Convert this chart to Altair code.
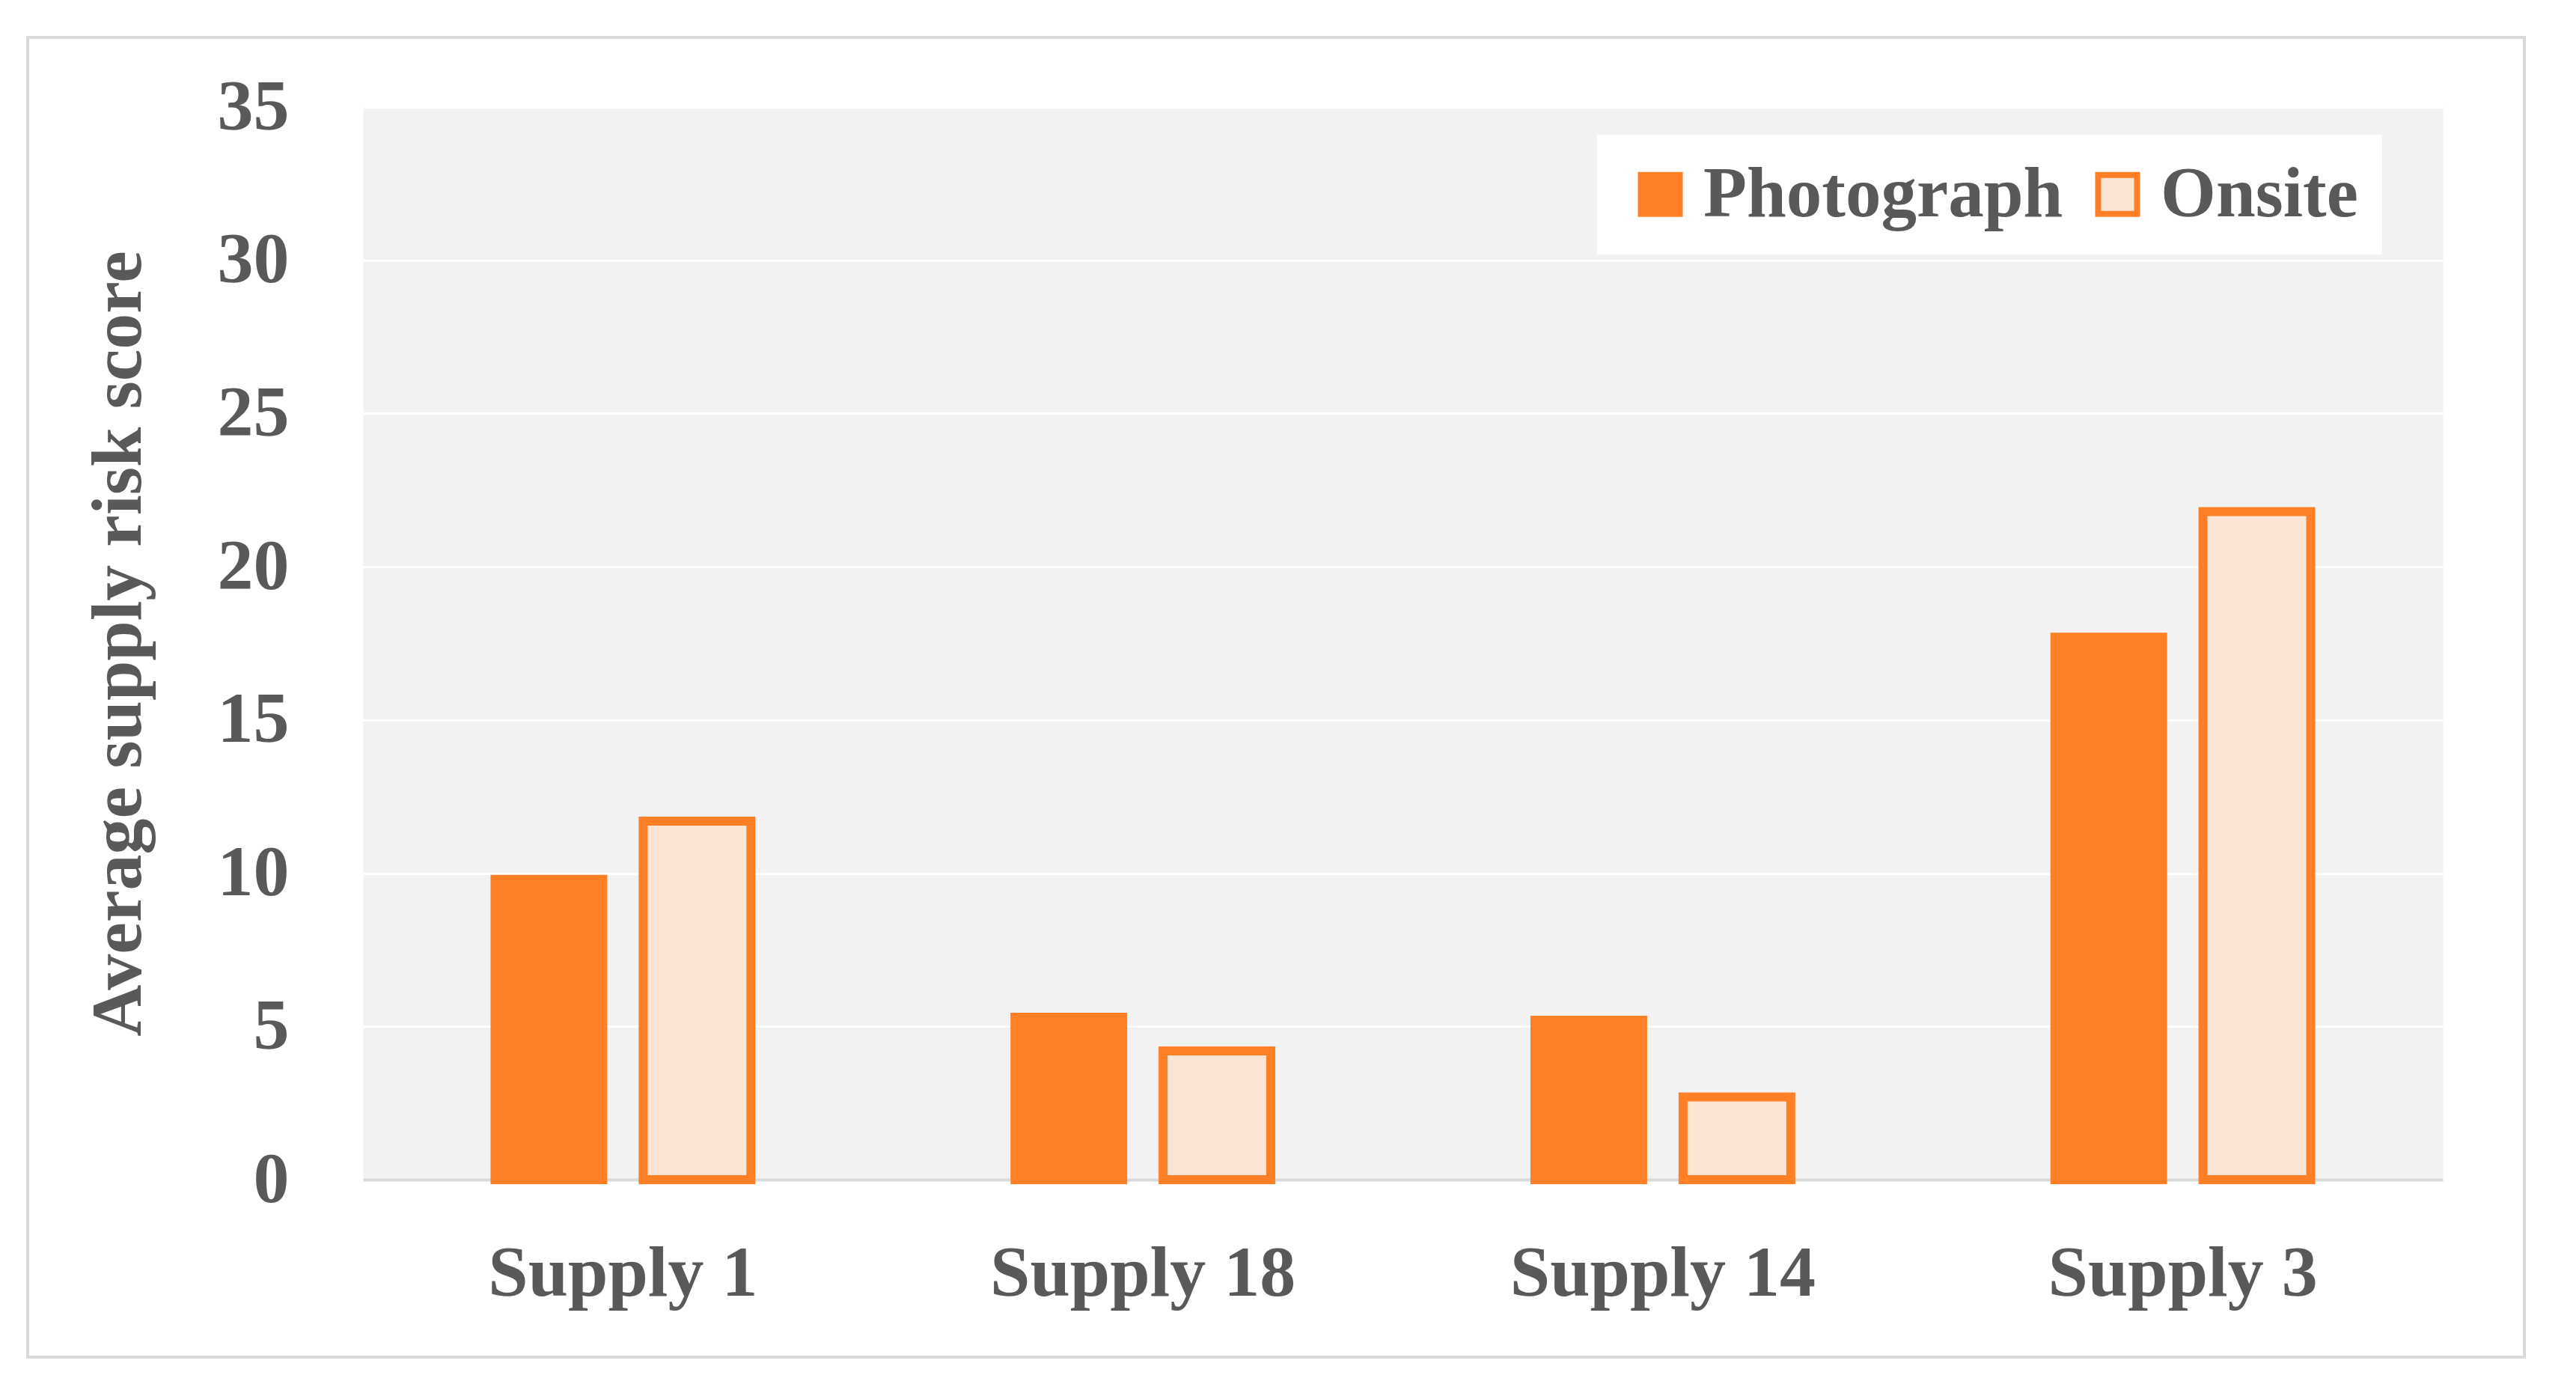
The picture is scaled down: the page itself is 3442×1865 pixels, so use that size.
import altair as alt
import pandas as pd

supplies = ["Supply 1", "Supply 18", "Supply 14", "Supply 3"]
series = ["Photograph", "Onsite"]
photograph = [9.8, 5.3, 5.2, 17.7]
onsite = [11.7, 4.2, 2.7, 21.8]
y_ticks = [0, 5, 10, 15, 20, 25, 30, 35]

rows = []
for s, p, o in zip(supplies, photograph, onsite):
    rows.append({"supply": s, "series": "Photograph", "score": p})
    rows.append({"supply": s, "series": "Onsite", "score": o})
df = pd.DataFrame(rows)

ORANGE = "#FF7F27"
PEACH = "#FDE5D6"
TEXT = "#595959"
FONT = "Liberation Serif"
W, H = 2779, 1433

bars = alt.Chart(df).mark_bar(stroke=ORANGE, strokeWidth=12).encode(
    x=alt.X(
        "supply:N",
        sort=supplies,
        scale=alt.Scale(paddingInner=0.508, paddingOuter=0.254),
        axis=alt.Axis(
            title=None, labelAngle=0, labelFont=FONT, labelFontSize=96,
            labelFontWeight="bold", labelColor=TEXT, labelPadding=78,
            labelLimit=2000,
            ticks=False, domainColor="#D9D9D9", domainWidth=4, grid=False,
        ),
    ),
    xOffset=alt.XOffset("series:N", sort=series,
                        scale=alt.Scale(paddingInner=0.2727, paddingOuter=0)),
    y=alt.Y(
        "score:Q",
        scale=alt.Scale(domain=[0, 35], nice=False),
        axis=alt.Axis(
            values=y_ticks, title="Average supply risk score",
            titleFont=FONT, titleFontSize=96, titleFontWeight="bold", titleColor=TEXT,
            titlePadding=83,
            labelFont=FONT, labelFontSize=96, labelFontWeight="bold", labelColor=TEXT,
            labelPadding=99, ticks=False, domain=False,
            gridColor="white", gridWidth=3,
        ),
    ),
    fill=alt.Fill(
        "series:N",
        sort=series,
        scale=alt.Scale(domain=series, range=[ORANGE, PEACH]),
        legend=alt.Legend(
            title=None, orient="none", legendX=1649, legendY=37,
            direction="horizontal", fillColor="white", padding=32,
            symbolType="square", symbolSize=2700, symbolStrokeColor=ORANGE,
            symbolStrokeWidth=8, symbolOffset=5,
            labelFont=FONT, labelFontSize=95, labelFontWeight="bold",
            labelColor=TEXT, labelOffset=10, columnPadding=20, labelLimit=1000,
        ),
    ),
)

frame = alt.Chart(pd.DataFrame({"f": [0]})).mark_rect(
    fill="transparent", stroke="#D9D9D9", strokeWidth=4
).encode(
    x=alt.value(-448), x2=alt.value(2888), y=alt.value(-93), y2=alt.value(1670)
)

chart = alt.layer(frame, bars).properties(
    width=W, height=H,
    padding={"left": 27, "top": 40, "right": 10, "bottom": 10},
).configure_view(fill="#F2F2F2", stroke="transparent")

chart.save("out.html", embed_options={"renderer": "svg", "actions": False})
